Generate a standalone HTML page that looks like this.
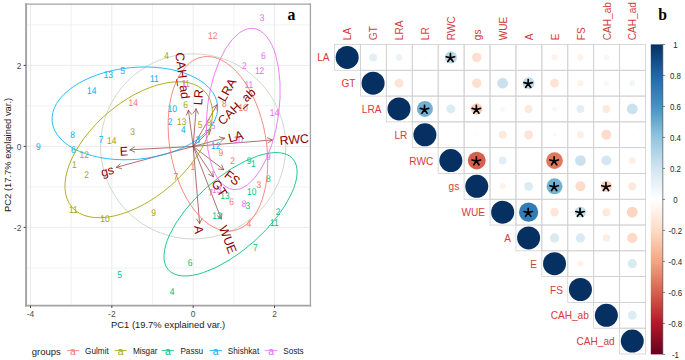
<!DOCTYPE html>
<html><head><meta charset="utf-8"><style>
html,body{margin:0;padding:0;background:#fff;}
svg{display:block;font-family:"Liberation Sans",sans-serif;}
</style></head><body>
<svg id="s" width="685" height="360" viewBox="0 0 685 360">
<rect x="0" y="0" width="685" height="360" fill="#fff"/>
<line x1="71.16" y1="4.1" x2="71.16" y2="305.7" stroke="#ededed" stroke-width="0.7"/>
<line x1="152.52" y1="4.1" x2="152.52" y2="305.7" stroke="#ededed" stroke-width="0.7"/>
<line x1="233.88" y1="4.1" x2="233.88" y2="305.7" stroke="#ededed" stroke-width="0.7"/>
<line x1="25.9" y1="24.90" x2="310.4" y2="24.90" stroke="#ededed" stroke-width="0.7"/>
<line x1="25.9" y1="105.90" x2="310.4" y2="105.90" stroke="#ededed" stroke-width="0.7"/>
<line x1="25.9" y1="186.90" x2="310.4" y2="186.90" stroke="#ededed" stroke-width="0.7"/>
<line x1="25.9" y1="267.90" x2="310.4" y2="267.90" stroke="#ededed" stroke-width="0.7"/>
<line x1="30.48" y1="4.1" x2="30.48" y2="305.7" stroke="#ebebeb" stroke-width="1"/>
<line x1="111.84" y1="4.1" x2="111.84" y2="305.7" stroke="#ebebeb" stroke-width="1"/>
<line x1="193.20" y1="4.1" x2="193.20" y2="305.7" stroke="#ebebeb" stroke-width="1"/>
<line x1="274.56" y1="4.1" x2="274.56" y2="305.7" stroke="#ebebeb" stroke-width="1"/>
<line x1="25.9" y1="65.40" x2="310.4" y2="65.40" stroke="#ebebeb" stroke-width="1"/>
<line x1="25.9" y1="146.40" x2="310.4" y2="146.40" stroke="#ebebeb" stroke-width="1"/>
<line x1="25.9" y1="227.40" x2="310.4" y2="227.40" stroke="#ebebeb" stroke-width="1"/>
<circle cx="193.2" cy="146.4" r="92.6" fill="none" stroke="#c3d8c3" stroke-width="0.9"/>
<g stroke="#93403f" stroke-width="0.75" stroke-linecap="round"><line x1="193.2" y1="146.4" x2="272.2" y2="140"/>
<line x1="272.2" y1="140" x2="267.50" y2="137.77"/>
<line x1="272.2" y1="140" x2="267.92" y2="142.96"/>
<line x1="193.2" y1="146.4" x2="224.4" y2="138.2"/>
<line x1="224.4" y1="138.2" x2="219.38" y2="136.83"/>
<line x1="224.4" y1="138.2" x2="220.71" y2="141.86"/>
<line x1="193.2" y1="146.4" x2="130.1" y2="149.8"/>
<line x1="130.1" y1="149.8" x2="134.74" y2="152.15"/>
<line x1="130.1" y1="149.8" x2="134.46" y2="146.96"/>
<line x1="193.2" y1="146.4" x2="116.5" y2="167.3"/>
<line x1="116.5" y1="167.3" x2="121.53" y2="168.62"/>
<line x1="116.5" y1="167.3" x2="120.16" y2="163.61"/>
<line x1="193.2" y1="146.4" x2="199.6" y2="223.4"/>
<line x1="199.6" y1="223.4" x2="201.82" y2="218.70"/>
<line x1="199.6" y1="223.4" x2="196.64" y2="219.13"/>
<line x1="193.2" y1="146.4" x2="221.2" y2="218.8"/>
<line x1="221.2" y1="218.8" x2="222.00" y2="213.66"/>
<line x1="221.2" y1="218.8" x2="217.15" y2="215.54"/>
<line x1="193.2" y1="146.4" x2="213.3" y2="176.7"/>
<line x1="213.3" y1="176.7" x2="212.98" y2="171.51"/>
<line x1="213.3" y1="176.7" x2="208.64" y2="174.38"/>
<line x1="193.2" y1="146.4" x2="223.7" y2="169.7"/>
<line x1="223.7" y1="169.7" x2="221.70" y2="164.90"/>
<line x1="223.7" y1="169.7" x2="218.54" y2="169.03"/>
<line x1="193.2" y1="146.4" x2="196.1" y2="109"/>
<line x1="196.1" y1="109" x2="193.16" y2="113.29"/>
<line x1="196.1" y1="109" x2="198.34" y2="113.69"/>
<line x1="193.2" y1="146.4" x2="188.4" y2="110.3"/>
<line x1="188.4" y1="110.3" x2="186.42" y2="115.11"/>
<line x1="188.4" y1="110.3" x2="191.57" y2="114.42"/>
<line x1="193.2" y1="146.4" x2="217" y2="104.9"/>
<line x1="217" y1="104.9" x2="212.50" y2="107.51"/>
<line x1="217" y1="104.9" x2="217.02" y2="110.10"/>
<line x1="193.2" y1="146.4" x2="210.5" y2="129.8"/>
<line x1="210.5" y1="129.8" x2="205.45" y2="131.04"/>
<line x1="210.5" y1="129.8" x2="209.05" y2="134.79"/></g>
<g font-size="9.8" text-rendering="geometricPrecision" text-anchor="middle" dominant-baseline="central"><text transform="translate(108.3 75.90) scale(0.86 1)" fill="#00B0F6">13</text>
<text transform="translate(122.7 71.60) scale(0.86 1)" fill="#00B0F6">5</text>
<text transform="translate(91.7 91.60) scale(0.86 1)" fill="#00B0F6">14</text>
<text transform="translate(72.7 135.90) scale(0.86 1)" fill="#00B0F6">8</text>
<text transform="translate(101 140.20) scale(0.86 1)" fill="#00B0F6">7</text>
<text transform="translate(38.3 147.60) scale(0.86 1)" fill="#00B0F6">9</text>
<text transform="translate(73.3 150.20) scale(0.86 1)" fill="#00B0F6">6</text>
<text transform="translate(154.4 79.10) scale(0.86 1)" fill="#00B0F6">11</text>
<text transform="translate(172.2 109.80) scale(0.86 1)" fill="#00B0F6">10</text>
<text transform="translate(170 122.50) scale(0.86 1)" fill="#00B0F6">2</text>
<text transform="translate(183.3 130.90) scale(0.86 1)" fill="#00B0F6">4</text>
<text transform="translate(197.8 140.90) scale(0.86 1)" fill="#00B0F6">3</text>
<text transform="translate(215.8 146.70) scale(0.86 1)" fill="#00B0F6">12</text>
<text transform="translate(166.7 56.50) scale(0.86 1)" fill="#A3A500">4</text>
<text transform="translate(132.7 132.60) scale(0.86 1)" fill="#A3A500">3</text>
<text transform="translate(111.7 141.60) scale(0.86 1)" fill="#A3A500">14</text>
<text transform="translate(84.3 155.20) scale(0.86 1)" fill="#A3A500">12</text>
<text transform="translate(74.3 165.90) scale(0.86 1)" fill="#A3A500">1</text>
<text transform="translate(86.7 175.90) scale(0.86 1)" fill="#A3A500">2</text>
<text transform="translate(73.3 210.20) scale(0.86 1)" fill="#A3A500">11</text>
<text transform="translate(105 219.20) scale(0.86 1)" fill="#A3A500">10</text>
<text transform="translate(185.6 105.30) scale(0.86 1)" fill="#A3A500">6</text>
<text transform="translate(181.8 122.00) scale(0.86 1)" fill="#A3A500">13</text>
<text transform="translate(200 125.30) scale(0.86 1)" fill="#A3A500">5</text>
<text transform="translate(175.9 177.50) scale(0.86 1)" fill="#A3A500">7</text>
<text transform="translate(153.6 213.20) scale(0.86 1)" fill="#A3A500">9</text>
<text transform="translate(209 123.50) scale(0.86 1)" fill="#A3A500">8</text>
<text transform="translate(133.3 103.60) scale(0.86 1)" fill="#F8766D">14</text>
<text transform="translate(212.7 36.90) scale(0.86 1)" fill="#F8766D">12</text>
<text transform="translate(224.4 104.90) scale(0.86 1)" fill="#F8766D">8</text>
<text transform="translate(243.3 108.70) scale(0.86 1)" fill="#F8766D">10</text>
<text transform="translate(220.8 153.40) scale(0.86 1)" fill="#F8766D">9</text>
<text transform="translate(232.5 161.70) scale(0.86 1)" fill="#F8766D">2</text>
<text transform="translate(258.9 185.30) scale(0.86 1)" fill="#F8766D">3</text>
<text transform="translate(231.6 202.00) scale(0.86 1)" fill="#F8766D">6</text>
<text transform="translate(210.7 193.10) scale(0.86 1)" fill="#F8766D">7</text>
<text transform="translate(248.9 224.20) scale(0.86 1)" fill="#F8766D">4</text>
<text transform="translate(185.5 84.90) scale(0.86 1)" fill="#F8766D">11</text>
<text transform="translate(192.8 167.10) scale(0.86 1)" fill="#F8766D">1</text>
<text transform="translate(190 263.10) scale(0.86 1)" fill="#00BF7D">6</text>
<text transform="translate(172.2 292.90) scale(0.86 1)" fill="#00BF7D">4</text>
<text transform="translate(119.5 275.90) scale(0.86 1)" fill="#00BF7D">5</text>
<text transform="translate(255.3 248.90) scale(0.86 1)" fill="#00BF7D">7</text>
<text transform="translate(274.4 223.10) scale(0.86 1)" fill="#00BF7D">11</text>
<text transform="translate(278 212.00) scale(0.86 1)" fill="#00BF7D">2</text>
<text transform="translate(268.3 179.20) scale(0.86 1)" fill="#00BF7D">8</text>
<text transform="translate(251.7 192.60) scale(0.86 1)" fill="#00BF7D">10</text>
<text transform="translate(249.2 161.70) scale(0.86 1)" fill="#00BF7D">9</text>
<text transform="translate(253.3 164.20) scale(0.86 1)" fill="#00BF7D">1</text>
<text transform="translate(225 196.70) scale(0.86 1)" fill="#00BF7D">13</text>
<text transform="translate(217 216.20) scale(0.86 1)" fill="#00BF7D">12</text>
<text transform="translate(247.8 206.50) scale(0.86 1)" fill="#00BF7D">3</text>
<text transform="translate(262.2 18.70) scale(0.86 1)" fill="#E76BF3">3</text>
<text transform="translate(263.3 56.50) scale(0.86 1)" fill="#E76BF3">6</text>
<text transform="translate(244.4 66.00) scale(0.86 1)" fill="#E76BF3">2</text>
<text transform="translate(259.6 71.30) scale(0.86 1)" fill="#E76BF3">12</text>
<text transform="translate(248.9 85.30) scale(0.86 1)" fill="#E76BF3">11</text>
<text transform="translate(274.4 113.60) scale(0.86 1)" fill="#E76BF3">14</text>
<text transform="translate(244 204.90) scale(0.86 1)" fill="#E76BF3">8</text>
<text transform="translate(268.3 157.60) scale(0.86 1)" fill="#E76BF3">9</text>
<text transform="translate(184.3 84.40) scale(0.86 1)" fill="#E76BF3">1</text>
<text transform="translate(238.3 140.50) scale(0.86 1)" fill="#E76BF3">10</text>
<text transform="translate(216.7 190.90) scale(0.86 1)" fill="#E76BF3">13</text>
<text transform="translate(213 126.40) scale(0.86 1)" fill="#E76BF3">5</text></g>
<ellipse cx="134.88" cy="113.37" rx="83.12" ry="45.93" transform="rotate(174.44 134.88 113.37)" fill="none" stroke="#00B0F6" stroke-width="0.8"/>
<ellipse cx="138.72" cy="149.74" rx="88.09" ry="48.04" transform="rotate(139.32 138.72 149.74)" fill="none" stroke="#A3A500" stroke-width="0.8"/>
<ellipse cx="230.53" cy="214.27" rx="83.36" ry="35.93" transform="rotate(138.15 230.53 214.27)" fill="none" stroke="#00BF7D" stroke-width="0.8"/>
<ellipse cx="243.24" cy="108.95" rx="81.14" ry="35.76" transform="rotate(-82.61 243.24 108.95)" fill="none" stroke="#E76BF3" stroke-width="0.8"/>
<ellipse cx="217.92" cy="143.83" rx="88.26" ry="48.15" transform="rotate(-99.93 217.92 143.83)" fill="none" stroke="#F8766D" stroke-width="0.8"/>
<g font-size="12.4" fill="#8B0000" dominant-baseline="central"><text transform="translate(272.2 140) rotate(-4.63)" x="7.34" y="1.5">RWC</text>
<text transform="translate(224.4 138.2) rotate(-14.73)" x="3.79" y="1.5">LA</text>
<text transform="translate(130.1 149.8) rotate(-3.08)" x="-10.33" y="1.5">E</text>
<text transform="translate(116.5 167.3) rotate(-15.24)" x="-16.37" y="1.5">gs</text>
<text transform="translate(199.6 223.4) rotate(85.25)" x="2.07" y="1.5">A</text>
<text transform="translate(221.2 218.8) rotate(68.86)" x="7.23" y="1.5">WUE</text>
<text transform="translate(213.3 176.7) rotate(56.44)" x="4.30" y="1.5">GT</text>
<text transform="translate(223.7 169.7) rotate(37.38)" x="3.96" y="1.5">FS</text>
<text transform="translate(196.1 109) rotate(-85.57)" x="3.96" y="1.5">LR</text>
<text transform="translate(188.4 110.3) rotate(82.43)" x="-58.55" y="1.5">CAH_ad</text>
<text transform="translate(217 104.9) rotate(-60.17)" x="6.03" y="1.5">LRA</text>
<text transform="translate(210.5 129.8) rotate(-43.82)" x="11.71" y="1.5">CAH_ab</text></g>
<g stroke="#a3a3a3" stroke-linecap="square"><line x1="25.9" y1="4.1" x2="310.4" y2="4.1" stroke-width="1.3"/><line x1="310.4" y1="4.1" x2="310.4" y2="305.7" stroke-width="1.3"/><line x1="26.099999999999998" y1="4.1" x2="26.099999999999998" y2="305.7" stroke-width="1.9"/><line x1="25.9" y1="305.7" x2="310.4" y2="305.7" stroke-width="1.7"/></g>
<g font-size="8.4" fill="#4d4d4d"><line x1="30.48" y1="305.7" x2="30.48" y2="308.0" stroke="#333" stroke-width="0.9"/>
<text x="30.48" y="313.9" text-anchor="middle" dominant-baseline="central">-4</text>
<line x1="111.84" y1="305.7" x2="111.84" y2="308.0" stroke="#333" stroke-width="0.9"/>
<text x="111.84" y="313.9" text-anchor="middle" dominant-baseline="central">-2</text>
<line x1="193.20" y1="305.7" x2="193.20" y2="308.0" stroke="#333" stroke-width="0.9"/>
<text x="193.20" y="313.9" text-anchor="middle" dominant-baseline="central">0</text>
<line x1="274.56" y1="305.7" x2="274.56" y2="308.0" stroke="#333" stroke-width="0.9"/>
<text x="274.56" y="313.9" text-anchor="middle" dominant-baseline="central">2</text>
<line x1="23.599999999999998" y1="65.40" x2="25.9" y2="65.40" stroke="#333" stroke-width="0.9"/>
<text x="21.299999999999997" y="65.90" text-anchor="end" dominant-baseline="central">2</text>
<line x1="23.599999999999998" y1="146.40" x2="25.9" y2="146.40" stroke="#333" stroke-width="0.9"/>
<text x="21.299999999999997" y="146.90" text-anchor="end" dominant-baseline="central">0</text>
<line x1="23.599999999999998" y1="227.40" x2="25.9" y2="227.40" stroke="#333" stroke-width="0.9"/>
<text x="21.299999999999997" y="227.90" text-anchor="end" dominant-baseline="central">-2</text></g>
<text x="168.14999999999998" y="324.6" font-size="9.4" fill="#1a1a1a" text-anchor="middle" dominant-baseline="central">PC1 (19.7% explained var.)</text>
<text transform="translate(7.6 154.9) rotate(-90)" font-size="9.4" fill="#1a1a1a" text-anchor="middle" dominant-baseline="central">PC2 (17.7% explained var.)</text>
<text transform="translate(291.5 20.2) scale(0.9 1)" x="0" y="0" font-family="Liberation Serif" font-weight="bold" font-size="17.5" text-anchor="middle">a</text>
<text x="31.7" y="351.8" font-size="9.5" fill="#1a1a1a" dominant-baseline="central">groups</text>
<line x1="66.8" y1="350.6" x2="79.1" y2="350.6" stroke="#F8766D" stroke-width="0.8"/>
<text x="72.95" y="351.2" font-size="10.4" fill="#F8766D" text-anchor="middle" dominant-baseline="central">a</text>
<text x="85.1" y="351.6" font-size="8.2" fill="#1a1a1a" dominant-baseline="central">Gulmit</text>
<line x1="114.6" y1="350.6" x2="126.89999999999999" y2="350.6" stroke="#A3A500" stroke-width="0.8"/>
<text x="120.75" y="351.2" font-size="10.4" fill="#A3A500" text-anchor="middle" dominant-baseline="central">a</text>
<text x="132.9" y="351.6" font-size="8.2" fill="#1a1a1a" dominant-baseline="central">Misgar</text>
<line x1="161.7" y1="350.6" x2="174.0" y2="350.6" stroke="#00BF7D" stroke-width="0.8"/>
<text x="167.85" y="351.2" font-size="10.4" fill="#00BF7D" text-anchor="middle" dominant-baseline="central">a</text>
<text x="180.4" y="351.6" font-size="8.2" fill="#1a1a1a" dominant-baseline="central">Passu</text>
<line x1="209.6" y1="350.6" x2="221.9" y2="350.6" stroke="#00B0F6" stroke-width="0.8"/>
<text x="215.75" y="351.2" font-size="10.4" fill="#00B0F6" text-anchor="middle" dominant-baseline="central">a</text>
<text x="227.8" y="351.6" font-size="8.2" fill="#1a1a1a" dominant-baseline="central">Shishkat</text>
<line x1="265" y1="350.6" x2="277.3" y2="350.6" stroke="#E76BF3" stroke-width="0.8"/>
<text x="271.15" y="351.2" font-size="10.4" fill="#E76BF3" text-anchor="middle" dominant-baseline="central">a</text>
<text x="283.2" y="351.6" font-size="8.2" fill="#1a1a1a" dominant-baseline="central">Sosts</text>
<rect x="334.50" y="44.50" width="25.92" height="25.79" fill="none" stroke="#d0d0d0" stroke-width="0.8"/>
<rect x="360.42" y="44.50" width="25.92" height="25.79" fill="none" stroke="#d0d0d0" stroke-width="0.8"/>
<rect x="386.34" y="44.50" width="25.92" height="25.79" fill="none" stroke="#d0d0d0" stroke-width="0.8"/>
<rect x="412.26" y="44.50" width="25.92" height="25.79" fill="none" stroke="#d0d0d0" stroke-width="0.8"/>
<rect x="438.18" y="44.50" width="25.92" height="25.79" fill="none" stroke="#d0d0d0" stroke-width="0.8"/>
<rect x="464.10" y="44.50" width="25.92" height="25.79" fill="none" stroke="#d0d0d0" stroke-width="0.8"/>
<rect x="490.02" y="44.50" width="25.92" height="25.79" fill="none" stroke="#d0d0d0" stroke-width="0.8"/>
<rect x="515.94" y="44.50" width="25.92" height="25.79" fill="none" stroke="#d0d0d0" stroke-width="0.8"/>
<rect x="541.86" y="44.50" width="25.92" height="25.79" fill="none" stroke="#d0d0d0" stroke-width="0.8"/>
<rect x="567.78" y="44.50" width="25.92" height="25.79" fill="none" stroke="#d0d0d0" stroke-width="0.8"/>
<rect x="593.70" y="44.50" width="25.92" height="25.79" fill="none" stroke="#d0d0d0" stroke-width="0.8"/>
<rect x="619.62" y="44.50" width="25.92" height="25.79" fill="none" stroke="#d0d0d0" stroke-width="0.8"/>
<rect x="360.42" y="70.29" width="25.92" height="25.79" fill="none" stroke="#d0d0d0" stroke-width="0.8"/>
<rect x="386.34" y="70.29" width="25.92" height="25.79" fill="none" stroke="#d0d0d0" stroke-width="0.8"/>
<rect x="412.26" y="70.29" width="25.92" height="25.79" fill="none" stroke="#d0d0d0" stroke-width="0.8"/>
<rect x="438.18" y="70.29" width="25.92" height="25.79" fill="none" stroke="#d0d0d0" stroke-width="0.8"/>
<rect x="464.10" y="70.29" width="25.92" height="25.79" fill="none" stroke="#d0d0d0" stroke-width="0.8"/>
<rect x="490.02" y="70.29" width="25.92" height="25.79" fill="none" stroke="#d0d0d0" stroke-width="0.8"/>
<rect x="515.94" y="70.29" width="25.92" height="25.79" fill="none" stroke="#d0d0d0" stroke-width="0.8"/>
<rect x="541.86" y="70.29" width="25.92" height="25.79" fill="none" stroke="#d0d0d0" stroke-width="0.8"/>
<rect x="567.78" y="70.29" width="25.92" height="25.79" fill="none" stroke="#d0d0d0" stroke-width="0.8"/>
<rect x="593.70" y="70.29" width="25.92" height="25.79" fill="none" stroke="#d0d0d0" stroke-width="0.8"/>
<rect x="619.62" y="70.29" width="25.92" height="25.79" fill="none" stroke="#d0d0d0" stroke-width="0.8"/>
<rect x="386.34" y="96.08" width="25.92" height="25.79" fill="none" stroke="#d0d0d0" stroke-width="0.8"/>
<rect x="412.26" y="96.08" width="25.92" height="25.79" fill="none" stroke="#d0d0d0" stroke-width="0.8"/>
<rect x="438.18" y="96.08" width="25.92" height="25.79" fill="none" stroke="#d0d0d0" stroke-width="0.8"/>
<rect x="464.10" y="96.08" width="25.92" height="25.79" fill="none" stroke="#d0d0d0" stroke-width="0.8"/>
<rect x="490.02" y="96.08" width="25.92" height="25.79" fill="none" stroke="#d0d0d0" stroke-width="0.8"/>
<rect x="515.94" y="96.08" width="25.92" height="25.79" fill="none" stroke="#d0d0d0" stroke-width="0.8"/>
<rect x="541.86" y="96.08" width="25.92" height="25.79" fill="none" stroke="#d0d0d0" stroke-width="0.8"/>
<rect x="567.78" y="96.08" width="25.92" height="25.79" fill="none" stroke="#d0d0d0" stroke-width="0.8"/>
<rect x="593.70" y="96.08" width="25.92" height="25.79" fill="none" stroke="#d0d0d0" stroke-width="0.8"/>
<rect x="619.62" y="96.08" width="25.92" height="25.79" fill="none" stroke="#d0d0d0" stroke-width="0.8"/>
<rect x="412.26" y="121.87" width="25.92" height="25.79" fill="none" stroke="#d0d0d0" stroke-width="0.8"/>
<rect x="438.18" y="121.87" width="25.92" height="25.79" fill="none" stroke="#d0d0d0" stroke-width="0.8"/>
<rect x="464.10" y="121.87" width="25.92" height="25.79" fill="none" stroke="#d0d0d0" stroke-width="0.8"/>
<rect x="490.02" y="121.87" width="25.92" height="25.79" fill="none" stroke="#d0d0d0" stroke-width="0.8"/>
<rect x="515.94" y="121.87" width="25.92" height="25.79" fill="none" stroke="#d0d0d0" stroke-width="0.8"/>
<rect x="541.86" y="121.87" width="25.92" height="25.79" fill="none" stroke="#d0d0d0" stroke-width="0.8"/>
<rect x="567.78" y="121.87" width="25.92" height="25.79" fill="none" stroke="#d0d0d0" stroke-width="0.8"/>
<rect x="593.70" y="121.87" width="25.92" height="25.79" fill="none" stroke="#d0d0d0" stroke-width="0.8"/>
<rect x="619.62" y="121.87" width="25.92" height="25.79" fill="none" stroke="#d0d0d0" stroke-width="0.8"/>
<rect x="438.18" y="147.66" width="25.92" height="25.79" fill="none" stroke="#d0d0d0" stroke-width="0.8"/>
<rect x="464.10" y="147.66" width="25.92" height="25.79" fill="none" stroke="#d0d0d0" stroke-width="0.8"/>
<rect x="490.02" y="147.66" width="25.92" height="25.79" fill="none" stroke="#d0d0d0" stroke-width="0.8"/>
<rect x="515.94" y="147.66" width="25.92" height="25.79" fill="none" stroke="#d0d0d0" stroke-width="0.8"/>
<rect x="541.86" y="147.66" width="25.92" height="25.79" fill="none" stroke="#d0d0d0" stroke-width="0.8"/>
<rect x="567.78" y="147.66" width="25.92" height="25.79" fill="none" stroke="#d0d0d0" stroke-width="0.8"/>
<rect x="593.70" y="147.66" width="25.92" height="25.79" fill="none" stroke="#d0d0d0" stroke-width="0.8"/>
<rect x="619.62" y="147.66" width="25.92" height="25.79" fill="none" stroke="#d0d0d0" stroke-width="0.8"/>
<rect x="464.10" y="173.45" width="25.92" height="25.79" fill="none" stroke="#d0d0d0" stroke-width="0.8"/>
<rect x="490.02" y="173.45" width="25.92" height="25.79" fill="none" stroke="#d0d0d0" stroke-width="0.8"/>
<rect x="515.94" y="173.45" width="25.92" height="25.79" fill="none" stroke="#d0d0d0" stroke-width="0.8"/>
<rect x="541.86" y="173.45" width="25.92" height="25.79" fill="none" stroke="#d0d0d0" stroke-width="0.8"/>
<rect x="567.78" y="173.45" width="25.92" height="25.79" fill="none" stroke="#d0d0d0" stroke-width="0.8"/>
<rect x="593.70" y="173.45" width="25.92" height="25.79" fill="none" stroke="#d0d0d0" stroke-width="0.8"/>
<rect x="619.62" y="173.45" width="25.92" height="25.79" fill="none" stroke="#d0d0d0" stroke-width="0.8"/>
<rect x="490.02" y="199.24" width="25.92" height="25.79" fill="none" stroke="#d0d0d0" stroke-width="0.8"/>
<rect x="515.94" y="199.24" width="25.92" height="25.79" fill="none" stroke="#d0d0d0" stroke-width="0.8"/>
<rect x="541.86" y="199.24" width="25.92" height="25.79" fill="none" stroke="#d0d0d0" stroke-width="0.8"/>
<rect x="567.78" y="199.24" width="25.92" height="25.79" fill="none" stroke="#d0d0d0" stroke-width="0.8"/>
<rect x="593.70" y="199.24" width="25.92" height="25.79" fill="none" stroke="#d0d0d0" stroke-width="0.8"/>
<rect x="619.62" y="199.24" width="25.92" height="25.79" fill="none" stroke="#d0d0d0" stroke-width="0.8"/>
<rect x="515.94" y="225.03" width="25.92" height="25.79" fill="none" stroke="#d0d0d0" stroke-width="0.8"/>
<rect x="541.86" y="225.03" width="25.92" height="25.79" fill="none" stroke="#d0d0d0" stroke-width="0.8"/>
<rect x="567.78" y="225.03" width="25.92" height="25.79" fill="none" stroke="#d0d0d0" stroke-width="0.8"/>
<rect x="593.70" y="225.03" width="25.92" height="25.79" fill="none" stroke="#d0d0d0" stroke-width="0.8"/>
<rect x="619.62" y="225.03" width="25.92" height="25.79" fill="none" stroke="#d0d0d0" stroke-width="0.8"/>
<rect x="541.86" y="250.82" width="25.92" height="25.79" fill="none" stroke="#d0d0d0" stroke-width="0.8"/>
<rect x="567.78" y="250.82" width="25.92" height="25.79" fill="none" stroke="#d0d0d0" stroke-width="0.8"/>
<rect x="593.70" y="250.82" width="25.92" height="25.79" fill="none" stroke="#d0d0d0" stroke-width="0.8"/>
<rect x="619.62" y="250.82" width="25.92" height="25.79" fill="none" stroke="#d0d0d0" stroke-width="0.8"/>
<rect x="567.78" y="276.61" width="25.92" height="25.79" fill="none" stroke="#d0d0d0" stroke-width="0.8"/>
<rect x="593.70" y="276.61" width="25.92" height="25.79" fill="none" stroke="#d0d0d0" stroke-width="0.8"/>
<rect x="619.62" y="276.61" width="25.92" height="25.79" fill="none" stroke="#d0d0d0" stroke-width="0.8"/>
<rect x="593.70" y="302.40" width="25.92" height="25.79" fill="none" stroke="#d0d0d0" stroke-width="0.8"/>
<rect x="619.62" y="302.40" width="25.92" height="25.79" fill="none" stroke="#d0d0d0" stroke-width="0.8"/>
<rect x="619.62" y="328.19" width="25.92" height="25.79" fill="none" stroke="#d0d0d0" stroke-width="0.8"/>
<circle cx="347.16" cy="57.39" r="11.50" fill="#053061"/>
<circle cx="373.08" cy="57.39" r="3.98" fill="#e3eff6"/>
<circle cx="399.00" cy="57.39" r="3.35" fill="#ebf4f9"/>
<circle cx="424.92" cy="57.39" r="1.54" fill="#fbfdfe"/>
<circle cx="450.84" cy="57.39" r="6.09" fill="#b8d8e9"/>
<circle cx="476.76" cy="57.39" r="4.74" fill="#fde0cf"/>
<circle cx="502.68" cy="57.39" r="0.73" fill="#fefeff"/>
<circle cx="528.60" cy="57.39" r="1.03" fill="#fdfefe"/>
<circle cx="554.52" cy="57.39" r="3.04" fill="#fef2eb"/>
<circle cx="580.44" cy="57.39" r="3.04" fill="#fef2eb"/>
<circle cx="606.36" cy="57.39" r="2.57" fill="#f4f8fb"/>
<circle cx="373.08" cy="83.19" r="11.50" fill="#053061"/>
<circle cx="399.00" cy="83.19" r="4.45" fill="#fee4d5"/>
<circle cx="424.92" cy="83.19" r="0.63" fill="#feffff"/>
<circle cx="450.84" cy="83.19" r="0.73" fill="#fefeff"/>
<circle cx="476.76" cy="83.19" r="4.74" fill="#fde0cf"/>
<circle cx="502.68" cy="83.19" r="5.39" fill="#cbe2ee"/>
<circle cx="528.60" cy="83.19" r="5.86" fill="#bedbeb"/>
<circle cx="554.52" cy="83.19" r="4.45" fill="#fee4d5"/>
<circle cx="580.44" cy="83.19" r="3.04" fill="#fef2eb"/>
<circle cx="606.36" cy="83.19" r="2.57" fill="#fef6f1"/>
<circle cx="632.28" cy="83.19" r="3.04" fill="#eff6fa"/>
<circle cx="399.00" cy="108.97" r="11.50" fill="#053061"/>
<circle cx="424.92" cy="108.97" r="7.97" fill="#72b1d3"/>
<circle cx="450.84" cy="108.97" r="4.45" fill="#dcecf4"/>
<circle cx="476.76" cy="108.97" r="5.75" fill="#fbceb6"/>
<circle cx="502.68" cy="108.97" r="2.57" fill="#fef6f1"/>
<circle cx="528.60" cy="108.97" r="3.98" fill="#fee9dd"/>
<circle cx="554.52" cy="108.97" r="2.57" fill="#fef6f1"/>
<circle cx="580.44" cy="108.97" r="3.98" fill="#e3eff6"/>
<circle cx="606.36" cy="108.97" r="3.98" fill="#fee9dd"/>
<circle cx="632.28" cy="108.97" r="5.39" fill="#cbe2ee"/>
<circle cx="424.92" cy="134.76" r="11.50" fill="#053061"/>
<circle cx="476.76" cy="134.76" r="1.99" fill="#fffaf7"/>
<circle cx="502.68" cy="134.76" r="3.98" fill="#fee9dd"/>
<circle cx="528.60" cy="134.76" r="4.45" fill="#fee4d5"/>
<circle cx="554.52" cy="134.76" r="1.99" fill="#f8fbfd"/>
<circle cx="580.44" cy="134.76" r="3.45" fill="#feefe6"/>
<circle cx="606.36" cy="134.76" r="5.01" fill="#fdddca"/>
<circle cx="632.28" cy="134.76" r="1.50" fill="#fffcfa"/>
<circle cx="450.84" cy="160.56" r="11.50" fill="#053061"/>
<circle cx="476.76" cy="160.56" r="8.91" fill="#d6604d"/>
<circle cx="502.68" cy="160.56" r="3.98" fill="#e3eff6"/>
<circle cx="528.60" cy="160.56" r="1.41" fill="#fcfdfe"/>
<circle cx="554.52" cy="160.56" r="8.37" fill="#e07860"/>
<circle cx="580.44" cy="160.56" r="5.39" fill="#cbe2ee"/>
<circle cx="606.36" cy="160.56" r="5.01" fill="#d3e6f1"/>
<circle cx="632.28" cy="160.56" r="3.45" fill="#feefe6"/>
<circle cx="476.76" cy="186.34" r="11.50" fill="#053061"/>
<circle cx="502.68" cy="186.34" r="3.04" fill="#fef2eb"/>
<circle cx="528.60" cy="186.34" r="4.45" fill="#dcecf4"/>
<circle cx="554.52" cy="186.34" r="7.97" fill="#72b1d3"/>
<circle cx="580.44" cy="186.34" r="5.01" fill="#fdddca"/>
<circle cx="606.36" cy="186.34" r="5.63" fill="#fbd0b9"/>
<circle cx="632.28" cy="186.34" r="3.98" fill="#fee9dd"/>
<circle cx="502.68" cy="212.13" r="11.50" fill="#053061"/>
<circle cx="528.60" cy="212.13" r="9.62" fill="#327cb8"/>
<circle cx="554.52" cy="212.13" r="4.30" fill="#fee6d8"/>
<circle cx="580.44" cy="212.13" r="5.63" fill="#c4dfec"/>
<circle cx="606.36" cy="212.13" r="3.98" fill="#fee9dd"/>
<circle cx="632.28" cy="212.13" r="5.39" fill="#fcd6c0"/>
<circle cx="528.60" cy="237.92" r="11.50" fill="#053061"/>
<circle cx="554.52" cy="237.92" r="4.60" fill="#daeaf3"/>
<circle cx="580.44" cy="237.92" r="4.60" fill="#daeaf3"/>
<circle cx="606.36" cy="237.92" r="3.64" fill="#feede3"/>
<circle cx="632.28" cy="237.92" r="5.14" fill="#fddbc7"/>
<circle cx="554.52" cy="263.72" r="11.50" fill="#053061"/>
<circle cx="580.44" cy="263.72" r="3.04" fill="#fef2eb"/>
<circle cx="606.36" cy="263.72" r="1.03" fill="#fdfefe"/>
<circle cx="632.28" cy="263.72" r="4.60" fill="#daeaf3"/>
<circle cx="580.44" cy="289.50" r="11.50" fill="#053061"/>
<circle cx="606.36" cy="289.50" r="1.03" fill="#fdfefe"/>
<circle cx="606.36" cy="315.30" r="11.50" fill="#053061"/>
<circle cx="632.28" cy="315.30" r="4.45" fill="#dcecf4"/>
<circle cx="632.28" cy="341.08" r="11.50" fill="#053061"/>
<g stroke="#000" stroke-width="1.7" stroke-linecap="round" fill="none"><path d="M450.44 57.89l0 -4.2M450.44 57.89l-4.2 -1.1M450.44 57.89l4.2 -1.1M450.44 57.89l-2.6 3.7M450.44 57.89l2.6 3.7"/><path d="M554.12 186.84l0 -4.2M554.12 186.84l-4.2 -1.1M554.12 186.84l4.2 -1.1M554.12 186.84l-2.6 3.7M554.12 186.84l2.6 3.7"/><path d="M424.52 109.47l0 -4.2M424.52 109.47l-4.2 -1.1M424.52 109.47l4.2 -1.1M424.52 109.47l-2.6 3.7M424.52 109.47l2.6 3.7"/><path d="M528.20 212.63l0 -4.2M528.20 212.63l-4.2 -1.1M528.20 212.63l4.2 -1.1M528.20 212.63l-2.6 3.7M528.20 212.63l2.6 3.7"/><path d="M528.20 83.69l0 -4.2M528.20 83.69l-4.2 -1.1M528.20 83.69l4.2 -1.1M528.20 83.69l-2.6 3.7M528.20 83.69l2.6 3.7"/><path d="M476.36 161.06l0 -4.2M476.36 161.06l-4.2 -1.1M476.36 161.06l4.2 -1.1M476.36 161.06l-2.6 3.7M476.36 161.06l2.6 3.7"/><path d="M605.96 186.84l0 -4.2M605.96 186.84l-4.2 -1.1M605.96 186.84l4.2 -1.1M605.96 186.84l-2.6 3.7M605.96 186.84l2.6 3.7"/><path d="M554.12 161.06l0 -4.2M554.12 161.06l-4.2 -1.1M554.12 161.06l4.2 -1.1M554.12 161.06l-2.6 3.7M554.12 161.06l2.6 3.7"/><path d="M476.36 109.47l0 -4.2M476.36 109.47l-4.2 -1.1M476.36 109.47l4.2 -1.1M476.36 109.47l-2.6 3.7M476.36 109.47l2.6 3.7"/><path d="M580.04 212.63l0 -4.2M580.04 212.63l-4.2 -1.1M580.04 212.63l4.2 -1.1M580.04 212.63l-2.6 3.7M580.04 212.63l2.6 3.7"/></g>
<g font-size="10.1" fill="#d43c3c"><text x="329.60" y="57.89" text-anchor="end" dominant-baseline="central">LA</text>
<text transform="translate(347.86 40.2) rotate(-90)" x="0" y="0" text-anchor="start" dominant-baseline="central">LA</text>
<text x="355.52" y="83.69" text-anchor="end" dominant-baseline="central">GT</text>
<text transform="translate(373.78 40.2) rotate(-90)" x="0" y="0" text-anchor="start" dominant-baseline="central">GT</text>
<text x="381.44" y="109.47" text-anchor="end" dominant-baseline="central">LRA</text>
<text transform="translate(399.70 40.2) rotate(-90)" x="0" y="0" text-anchor="start" dominant-baseline="central">LRA</text>
<text x="407.36" y="135.26" text-anchor="end" dominant-baseline="central">LR</text>
<text transform="translate(425.62 40.2) rotate(-90)" x="0" y="0" text-anchor="start" dominant-baseline="central">LR</text>
<text x="433.28" y="161.06" text-anchor="end" dominant-baseline="central">RWC</text>
<text transform="translate(451.54 40.2) rotate(-90)" x="0" y="0" text-anchor="start" dominant-baseline="central">RWC</text>
<text x="459.20" y="186.84" text-anchor="end" dominant-baseline="central">gs</text>
<text transform="translate(477.46 40.2) rotate(-90)" x="0" y="0" text-anchor="start" dominant-baseline="central">gs</text>
<text x="485.12" y="212.63" text-anchor="end" dominant-baseline="central">WUE</text>
<text transform="translate(503.38 40.2) rotate(-90)" x="0" y="0" text-anchor="start" dominant-baseline="central">WUE</text>
<text x="511.04" y="238.42" text-anchor="end" dominant-baseline="central">A</text>
<text transform="translate(529.30 40.2) rotate(-90)" x="0" y="0" text-anchor="start" dominant-baseline="central">A</text>
<text x="536.96" y="264.22" text-anchor="end" dominant-baseline="central">E</text>
<text transform="translate(555.22 40.2) rotate(-90)" x="0" y="0" text-anchor="start" dominant-baseline="central">E</text>
<text x="562.88" y="290.00" text-anchor="end" dominant-baseline="central">FS</text>
<text transform="translate(581.14 40.2) rotate(-90)" x="0" y="0" text-anchor="start" dominant-baseline="central">FS</text>
<text x="588.80" y="315.80" text-anchor="end" dominant-baseline="central">CAH_ab</text>
<text transform="translate(607.06 40.2) rotate(-90)" x="0" y="0" text-anchor="start" dominant-baseline="central">CAH_ab</text>
<text x="614.72" y="341.58" text-anchor="end" dominant-baseline="central">CAH_ad</text>
<text transform="translate(632.98 40.2) rotate(-90)" x="0" y="0" text-anchor="start" dominant-baseline="central">CAH_ad</text></g>
<defs><linearGradient id="cb" x1="0" y1="0" x2="0" y2="1"><stop offset="0.0" stop-color="#053061"/><stop offset="0.1" stop-color="#2166AC"/><stop offset="0.2" stop-color="#4393C3"/><stop offset="0.3" stop-color="#92C5DE"/><stop offset="0.4" stop-color="#D1E5F0"/><stop offset="0.5" stop-color="#FFFFFF"/><stop offset="0.6" stop-color="#FDDBC7"/><stop offset="0.7" stop-color="#F4A582"/><stop offset="0.8" stop-color="#D6604D"/><stop offset="0.9" stop-color="#B2182B"/><stop offset="1.0" stop-color="#67001F"/></linearGradient></defs>
<rect x="650.8" y="44.4" width="12.0" height="310.0" fill="url(#cb)"/>
<line x1="662.8" y1="44.4" x2="662.8" y2="354.4" stroke="#333" stroke-width="0.6"/>
<g font-size="9.2" fill="#262626"><line x1="662.8" y1="44.40" x2="665.0" y2="44.40" stroke="#333" stroke-width="0.6"/>
<text transform="translate(675.4 44.70) scale(0.86 1)" x="0" y="0" text-anchor="middle" dominant-baseline="central">1</text>
<line x1="662.8" y1="75.40" x2="665.0" y2="75.40" stroke="#333" stroke-width="0.6"/>
<text transform="translate(675.4 75.70) scale(0.86 1)" x="0" y="0" text-anchor="middle" dominant-baseline="central">0.8</text>
<line x1="662.8" y1="106.40" x2="665.0" y2="106.40" stroke="#333" stroke-width="0.6"/>
<text transform="translate(675.4 106.70) scale(0.86 1)" x="0" y="0" text-anchor="middle" dominant-baseline="central">0.6</text>
<line x1="662.8" y1="137.40" x2="665.0" y2="137.40" stroke="#333" stroke-width="0.6"/>
<text transform="translate(675.4 137.70) scale(0.86 1)" x="0" y="0" text-anchor="middle" dominant-baseline="central">0.4</text>
<line x1="662.8" y1="168.40" x2="665.0" y2="168.40" stroke="#333" stroke-width="0.6"/>
<text transform="translate(675.4 168.70) scale(0.86 1)" x="0" y="0" text-anchor="middle" dominant-baseline="central">0.2</text>
<line x1="662.8" y1="199.40" x2="665.0" y2="199.40" stroke="#333" stroke-width="0.6"/>
<text transform="translate(675.4 199.70) scale(0.86 1)" x="0" y="0" text-anchor="middle" dominant-baseline="central">0</text>
<line x1="662.8" y1="230.40" x2="665.0" y2="230.40" stroke="#333" stroke-width="0.6"/>
<text transform="translate(675.4 230.70) scale(0.86 1)" x="0" y="0" text-anchor="middle" dominant-baseline="central">-0.2</text>
<line x1="662.8" y1="261.40" x2="665.0" y2="261.40" stroke="#333" stroke-width="0.6"/>
<text transform="translate(675.4 261.70) scale(0.86 1)" x="0" y="0" text-anchor="middle" dominant-baseline="central">-0.4</text>
<line x1="662.8" y1="292.40" x2="665.0" y2="292.40" stroke="#333" stroke-width="0.6"/>
<text transform="translate(675.4 292.70) scale(0.86 1)" x="0" y="0" text-anchor="middle" dominant-baseline="central">-0.6</text>
<line x1="662.8" y1="323.40" x2="665.0" y2="323.40" stroke="#333" stroke-width="0.6"/>
<text transform="translate(675.4 323.70) scale(0.86 1)" x="0" y="0" text-anchor="middle" dominant-baseline="central">-0.8</text>
<line x1="662.8" y1="354.40" x2="665.0" y2="354.40" stroke="#333" stroke-width="0.6"/>
<text transform="translate(675.4 354.70) scale(0.86 1)" x="0" y="0" text-anchor="middle" dominant-baseline="central">-1</text></g>
<text transform="translate(662.7 20.2) scale(0.9 1)" x="0" y="0" font-family="Liberation Serif" font-weight="bold" font-size="17.5" text-anchor="middle">b</text>
</svg>

</body></html>
